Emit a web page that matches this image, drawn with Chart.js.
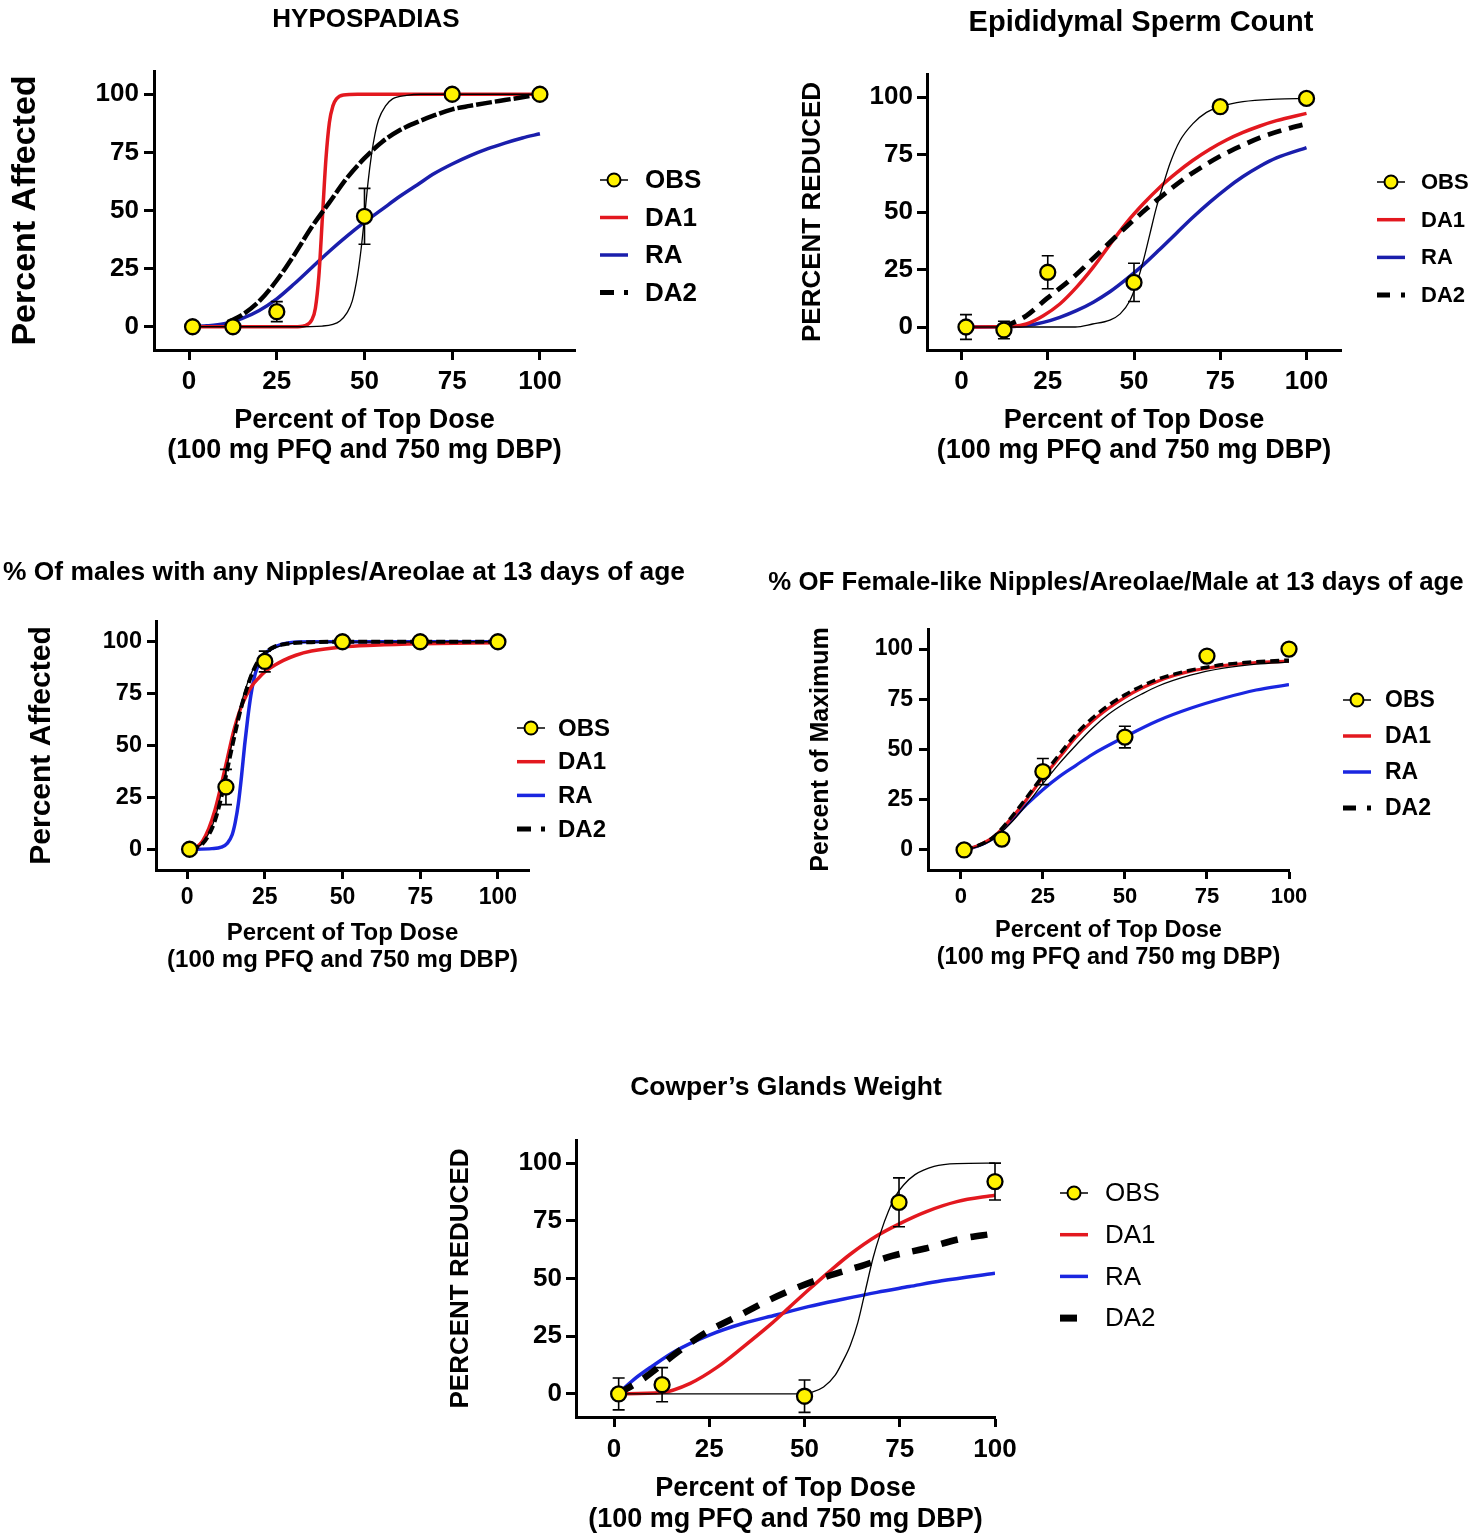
<!DOCTYPE html>
<html>
<head>
<meta charset="utf-8">
<script src="https://cdn.jsdelivr.net/npm/chart.js@4.4.1/dist/chart.umd.min.js"></script>
<style>
  html, body { margin: 0; padding: 0; background: #fff; }
  body { width: 1474px; height: 1539px; overflow: hidden; position: relative; }
  canvas { position: absolute; }
</style>
</head>
<body>
<canvas id="hypo"></canvas>
<canvas id="sperm"></canvas>
<canvas id="nipAny"></canvas>
<canvas id="nipFem"></canvas>
<canvas id="cowper"></canvas>
<script>
// ---- data ----
const doseTicks = [0, 25, 50, 75, 100];
const legendOrder = ['OBS', 'DA1', 'RA', 'DA2'];

// HYPOSPADIAS
const hypoObsX = [1, 12.5, 25, 50, 75, 100];
const hypoObsY = [0, 0, 6.5, 47.5, 100, 100];
const hypoObsErr = [0, 0, 4.3, 12, 0, 0];
const hypoFitX = [0, 30, 38, 41, 43, 45, 46.5, 48, 49, 50, 51, 52, 53, 54, 56, 58, 62, 66, 100];
const hypoFitY = [0, 0, 0.3, 1, 2.5, 6, 11, 22, 33, 47, 62, 74, 83, 89, 95, 98, 99.5, 100, 100];
const hypoDa1X = [0, 30, 33, 35, 36, 37, 38, 39, 40, 41, 42, 44, 48, 100];
const hypoDa1Y = [0, 0, 0.5, 3, 8, 22, 47, 72, 88, 95, 98, 99.7, 100, 100];
const hypoRaX = [0, 5, 10, 15, 20, 25, 30, 35, 40, 45, 50, 55, 60, 65, 70, 75, 80, 85, 90, 95, 100];
const hypoRaY = [0, 0.4, 1.3, 3.5, 7, 12, 18.5, 25.5, 32.5, 39, 45, 50.5, 56, 61, 66, 70, 73.5, 76.5, 79, 81.2, 83];
const hypoDa2X = [11, 15, 20, 25, 30, 35, 40, 45, 50, 55, 60, 65, 70, 75, 80, 85, 90, 95, 100];
const hypoDa2Y = [2, 5, 11, 20, 31, 43, 53.5, 64, 72.5, 79.5, 84.5, 88, 91, 93.5, 95, 96.3, 97.5, 98.7, 100];

// Epididymal Sperm Count
const spermObsX = [1.3, 12.3, 25, 50, 75, 100];
const spermObsY = [0, -1.3, 23.8, 19.4, 95.8, 99.4];
const spermObsErr = [5.4, 3.8, 7.2, 8.3, 0, 0];
const spermFitX = [1, 33, 38, 43, 46, 48.8, 50.7, 52.7, 54.6, 56.5, 58.5, 60.4, 63.3, 67, 71, 75, 81.6, 91.3, 100];
const spermFitY = [0, 0, 1.3, 3, 5.7, 11.4, 18.7, 28.8, 40.4, 52, 62, 71, 81, 88.3, 93.3, 95.8, 98, 99.1, 99.4];
const spermDa1X = [1, 15, 18.8, 23.7, 28.5, 33.3, 38.2, 43, 47.8, 52.7, 57.5, 62.3, 67, 72, 76.8, 81.6, 86.5, 91.3, 100];
const spermDa1Y = [0, 0.3, 1.3, 4.9, 10, 17.2, 26, 35.8, 45.3, 53.6, 60.8, 67, 72.4, 77.3, 81.3, 84.6, 87.4, 89.7, 92.9];
const spermRaX = [1, 15, 18.8, 23.7, 28.5, 33.3, 38.2, 43, 47.8, 52.7, 57.5, 62.3, 67, 72, 76.8, 81.6, 86.5, 91.3, 100];
const spermRaY = [0, 0.2, 0.6, 2, 4.2, 7.1, 10.8, 15.3, 20.8, 27, 33.8, 40.8, 47.6, 54.3, 60.2, 65.4, 69.9, 73.5, 78];
const spermDa2X = [12, 14, 18.8, 24.7, 32.3, 39, 47, 53.7, 61.3, 66, 74.4, 80.6, 87, 94, 100];
const spermDa2Y = [0, 1.2, 4.9, 12.3, 21.5, 31, 42.5, 51.5, 60.8, 66, 73.8, 78.4, 82.6, 86, 88.3];

// % of males with any nipples/areolae
const nipAnyObsX = [0.8, 12.5, 25, 50, 75, 100];
const nipAnyObsY = [0, 30, 90.5, 100, 100, 100];
const nipAnyObsErr = [0, 8.5, 5, 0, 0, 0];
const nipAnyFitX = [1, 5, 9, 13, 17, 21, 25, 30, 40, 100];
const nipAnyFitY = [0, 3, 15, 41, 68, 86, 94, 98, 99.8, 100];
const nipAnyDa1X = [1, 3, 5, 7, 9, 11, 13, 15, 17, 19, 21, 23, 25, 28, 31, 35, 40, 50, 60, 75, 100];
const nipAnyDa1Y = [0, 1, 4, 10, 19, 31, 44, 57, 67, 74, 79, 82.5, 85.5, 88.5, 91, 93.5, 95.5, 97.5, 98.3, 99, 99.5];
const nipAnyRaX = [1, 8, 11, 13, 14.5, 15.5, 16.5, 17.5, 18.5, 19.5, 20.5, 22, 24, 26, 29, 33, 40, 100];
const nipAnyRaY = [0, 0.3, 1, 3, 7, 13, 22, 35, 50, 63, 74, 85, 92, 95.5, 98, 99.5, 100, 100];
const nipAnyDa2X = [1, 3, 5, 7, 9, 11, 13, 15, 17, 19, 21, 23, 25, 28, 32, 40, 50, 100];
const nipAnyDa2Y = [0, 0.8, 2.7, 7, 14, 25, 39, 53, 66, 76.5, 85, 91, 94.5, 97.5, 99, 99.8, 100, 100];

// % of female-like nipples/areolae per male
const nipFemObsX = [1, 12.5, 25, 50, 75, 100];
const nipFemObsY = [0, 5.4, 39, 56.2, 96.5, 100];
const nipFemObsErr = [0, 0, 6.5, 5.4, 0, 0];
const nipFemFitX = [1, 5, 10, 15, 20, 25, 30, 35, 40, 45, 50, 55, 60, 70, 80, 90, 100];
const nipFemFitY = [0, 1.5, 5.5, 13, 22.5, 33, 43, 52, 60.5, 67.5, 73, 77.5, 81.5, 87, 90.5, 92.5, 93.5];
const nipFemDa1X = [1, 5, 10, 15, 20, 25, 30, 35, 40, 45, 50, 55, 60, 65, 70, 75, 80, 90, 100];
const nipFemDa1Y = [0, 2, 6.5, 15, 25, 36, 46, 56, 64, 70.5, 76, 80.5, 84, 86.8, 89, 90.5, 91.8, 93.3, 94];
const nipFemRaX = [1, 5, 10, 15, 20, 25, 30, 35, 40, 50, 60, 70, 80, 90, 100];
const nipFemRaY = [0, 1.8, 6, 14, 22.5, 30, 36.5, 42, 47.5, 56.3, 64.3, 70.5, 75.5, 79.6, 82.3];
const nipFemDa2X = [1, 5, 10, 15, 20, 25, 30, 35, 40, 45, 50, 55, 60, 65, 70, 75, 80, 90, 100];
const nipFemDa2Y = [0, 2, 6.5, 15.5, 26, 37, 47.5, 57.5, 65.5, 72, 77.2, 81.5, 85, 87.5, 89.5, 91, 92.3, 93.7, 94.5];

// Cowper's glands weight
const cowperObsX = [1.2, 12.6, 50, 74.8, 100];
const cowperObsY = [0, 4, -1, 83, 92];
const cowperObsErr = [6.9, 7.4, 7, 10.6, 8];
const cowperFitX = [1, 48, 52, 55, 58, 60, 62, 64, 66, 68, 70, 72, 74, 76, 79, 84, 90, 100];
const cowperFitY = [0, 0, 0.8, 3, 8, 14, 21, 31, 45, 59, 70, 79, 86, 90.5, 95, 98.6, 99.8, 100];
const cowperDa1X = [1, 12.5, 20, 27, 34, 41, 46, 51, 56.5, 62, 69, 75, 82, 90, 100];
const cowperDa1Y = [0, 0.6, 4.6, 11.5, 20.5, 30, 37.5, 45, 53, 60.5, 68.5, 73.8, 79, 83.3, 86.1];
const cowperRaX = [1, 5, 10, 16, 25, 34, 42.5, 51, 60, 69, 77.5, 86, 100];
const cowperRaY = [0, 6, 12, 18.5, 25.5, 30.6, 34.2, 37.8, 41, 44, 46.5, 49, 52.3];
const cowperDa2X = [1, 8, 17, 24, 32, 40.5, 48, 56.8, 65, 73, 81.7, 90.5, 100];
const cowperDa2Y = [0, 7, 18.5, 26.5, 33.3, 40.5, 46, 51.4, 55.5, 59.8, 63, 67, 69.5];

// ---- look ----
const FONT = "'Liberation Sans', Arial, Helvetica, sans-serif";
const RED = '#e3181f';
const YELLOW = '#fff200';
Chart.defaults.font.family = FONT;
Chart.defaults.color = '#000';

const pts = (xs, ys) => xs.map((x, i) => ({ x: x, y: ys[i] }));

// error bars drawn right before the OBS markers
const errorBars = {
  id: 'errorBars',
  beforeDatasetDraw(chart, args) {
    const ds = chart.data.datasets[args.index];
    if (!ds.errors) return;
    const { ctx } = chart;
    const sx = chart.scales.x, sy = chart.scales.y;
    ctx.save();
    ctx.strokeStyle = '#000';
    ctx.lineWidth = 1.6;
    ds.data.forEach((p, i) => {
      const e = ds.errors[i];
      if (!e) return;
      const px = sx.getPixelForValue(p.x);
      const top = sy.getPixelForValue(p.y + e);
      const bot = sy.getPixelForValue(p.y - e);
      ctx.beginPath();
      ctx.moveTo(px, top); ctx.lineTo(px, bot);
      ctx.moveTo(px - 6, top); ctx.lineTo(px + 6, top);
      ctx.moveTo(px - 6, bot); ctx.lineTo(px + 6, bot);
      ctx.stroke();
    });
    ctx.restore();
  }
};

// legend to the right of the plot, GraphPad style
const sideLegend = {
  id: 'sideLegend',
  afterDraw(chart, args, opts) {
    const { ctx, chartArea } = chart;
    const x0 = chartArea.right + opts.dx;
    opts.items.forEach((label, i) => {
      const ds = chart.data.datasets.find(d => d.label === label);
      if (!ds) return;
      const y = chartArea.top + opts.dy + i * opts.step;
      ctx.save();
      ctx.beginPath();
      if (label === 'OBS') {
        ctx.strokeStyle = '#000';
        ctx.lineWidth = 1.5;
        ctx.moveTo(x0, y); ctx.lineTo(x0 + opts.len, y);
        ctx.stroke();
        ctx.beginPath();
        ctx.arc(x0 + opts.len / 2, y, 6.5, 0, Math.PI * 2);
        ctx.fillStyle = YELLOW;
        ctx.fill();
        ctx.lineWidth = 2;
        ctx.stroke();
      } else {
        ctx.strokeStyle = ds.borderColor;
        ctx.lineWidth = label === 'DA2' ? opts.da2Width : 3.5;
        if (label === 'DA2') ctx.setLineDash(opts.da2Dash);
        ctx.moveTo(x0, y); ctx.lineTo(x0 + opts.len, y);
        ctx.stroke();
      }
      ctx.setLineDash([]);
      ctx.fillStyle = '#000';
      ctx.font = opts.weight + ' ' + opts.size + 'px ' + FONT;
      ctx.textBaseline = 'middle';
      ctx.textAlign = 'left';
      ctx.fillText(label, chartArea.right + opts.textDx, y + 1);
      ctx.restore();
    });
  }
};

// ---- panels: placement and styling ----
const panels = [
  {
    id: 'hypo', box: [0, 0, 732, 475], area: [154, 71, 575, 350], xMax: 110, tick: 10,
    title: ['HYPOSPADIAS', 26, 20], yTitle: ['Percent Affected', 34, 26],
    yTicks: [26, 139], xTicks: [26, 382], xTitle: [27, 30, 421],
    legend: { dx: 25, dy: 109, step: 37.5, len: 28, textDx: 70, size: 26, weight: 'bold', da2Dash: [14, 10], da2Width: 5 },
    blue: '#1a1eac', lineW: 3.5, da2W: 4.5, da2Dash: [16, 3],
    obs: [hypoObsX, hypoObsY, hypoObsErr], fit: [hypoFitX, hypoFitY],
    da1: [hypoDa1X, hypoDa1Y], ra: [hypoRaX, hypoRaY], da2: [hypoDa2X, hypoDa2Y]
  },
  {
    id: 'sperm', box: [741, 0, 800, 475], area: [927, 74, 1341, 350], xMax: 110, tick: 10,
    title: ['Epididymal Sperm Count', 29, 23], yTitle: ['PERCENT REDUCED', 26, 813],
    yTicks: [26, 913], xTicks: [26, 382], xTitle: [27, 30, 421],
    legend: { dx: 36, dy: 108, step: 37.7, len: 28, textDx: 80, size: 22, weight: 'bold', da2Dash: [13, 11], da2Width: 5 },
    blue: '#1a1eac', lineW: 3.5, da2W: 4.8, da2Dash: [14, 8],
    obs: [spermObsX, spermObsY, spermObsErr], fit: [spermFitX, spermFitY],
    da1: [spermDa1X, spermDa1Y], ra: [spermRaX, spermRaY], da2: [spermDa2X, spermDa2Y]
  },
  {
    id: 'nipAny', box: [0, 545, 688, 440], area: [156, 621, 529, 870], xMax: 110, tick: 9,
    title: ['% Of males with any Nipples/Areolae at 13 days of age', 26.4, 573], yTitle: ['Percent Affected', 30, 42],
    yTicks: [23.5, 142], xTicks: [23, 898], xTitle: [24, 27, 933],
    legend: { dx: -12, dy: 107, step: 33.7, len: 28, textDx: 29, size: 24, weight: 'bold', da2Dash: [14, 10], da2Width: 5 },
    blue: '#1a26e0', lineW: 3.5, da2W: 4, da2Dash: [9, 4],
    obs: [nipAnyObsX, nipAnyObsY, nipAnyObsErr], fit: [nipAnyFitX, nipAnyFitY],
    da1: [nipAnyDa1X, nipAnyDa1Y], ra: [nipAnyRaX, nipAnyRaY], da2: [nipAnyDa2X, nipAnyDa2Y]
  },
  {
    id: 'nipFem', box: [740, 545, 752, 440], area: [928, 629, 1289, 870], xMax: 100, tick: 9,
    title: ['% OF Female-like Nipples/Areolae/Male at 13 days of age', 25.8, 583], yTitle: ['Percent of Maximum', 25, 821],
    yTicks: [23, 913], xTicks: [22, 897], xTitle: [23.5, 26.5, 931],
    legend: { dx: 54, dy: 71, step: 36, len: 28, textDx: 96, size: 23, weight: 'bold', da2Dash: [13, 11], da2Width: 5 },
    blue: '#1a26e0', lineW: 3.2, da2W: 3.5, da2Dash: [9, 5],
    obs: [nipFemObsX, nipFemObsY, nipFemObsErr], fit: [nipFemFitX, nipFemFitY],
    da1: [nipFemDa1X, nipFemDa1Y], ra: [nipFemRaX, nipFemRaY], da2: [nipFemDa2X, nipFemDa2Y]
  },
  {
    id: 'cowper', box: [300, 1060, 972, 479], area: [576, 1140, 995, 1417], xMax: 100, tick: 10,
    title: ['Cowper\u2019s Glands Weight', 26.5, 1088], yTitle: ['PERCENT REDUCED', 26, 461],
    yTicks: [26, 562], xTicks: [26, 1450], xTitle: [27, 31, 1489],
    legend: { dx: 65, dy: 53, step: 41.7, len: 28, textDx: 110, size: 26, weight: 'normal', da2Dash: [17, 14], da2Width: 7 },
    blue: '#1a26e0', lineW: 3.5, da2W: 6.5, da2Dash: [17, 13],
    obs: [cowperObsX, cowperObsY, cowperObsErr], fit: [cowperFitX, cowperFitY],
    da1: [cowperDa1X, cowperDa1Y], ra: [cowperRaX, cowperRaY], da2: [cowperDa2X, cowperDa2Y]
  }
];

function buildChart(p) {
  const [L, T, W, H] = p.box;
  const [al, at, ar, ab] = p.area;
  const canvas = document.getElementById(p.id);
  canvas.width = W; canvas.height = H;
  canvas.style.left = L + 'px'; canvas.style.top = T + 'px';
  canvas.style.width = W + 'px'; canvas.style.height = H + 'px';

  const [tText, tSize, tCy] = p.title;
  const tLh = tSize * 1.2;
  const tPadTop = tCy - T - tLh / 2;
  const tPadBottom = (at - T) - tLh - tPadTop;

  const [yText, ySize, yCx] = p.yTitle;
  const yLh = ySize * 1.2;

  const [xtSize, xtLh, xtCy] = p.xTitle;
  const xtPadBottom = (T + H) - xtCy - xtLh / 2 - xtLh;

  const [ytSize, ytRight] = p.yTicks;
  const [xkSize, xkCy] = p.xTicks;

  const curve = (label, xy, color, width, dash) => ({
    label: label, data: pts(xy[0], xy[1]), borderColor: color, borderWidth: width,
    borderDash: dash || [], pointRadius: 0, cubicInterpolationMode: 'monotone', fill: false
  });

  return new Chart(canvas.getContext('2d'), {
    type: 'line',
    data: {
      datasets: [
        {
          label: 'OBS', data: pts(p.obs[0], p.obs[1]), errors: p.obs[2], showLine: false,
          pointRadius: 7.5, pointBackgroundColor: YELLOW, pointBorderColor: '#000', pointBorderWidth: 2.3, clip: false
        },
        curve('OBS fit', p.fit, '#000', 1.3),
        curve('DA2', p.da2, '#000', p.da2W, p.da2Dash),
        curve('DA1', p.da1, RED, p.lineW),
        curve('RA', p.ra, p.blue, p.lineW)
      ]
    },
    options: {
      responsive: false,
      animation: false,
      events: [],
      layout: { padding: 0 },
      plugins: {
        legend: { display: false },
        tooltip: { enabled: false },
        title: {
          display: true, text: tText, fullSize: true, color: '#000',
          font: { size: tSize, weight: 'bold', lineHeight: 1.2 },
          padding: { top: tPadTop, bottom: tPadBottom }
        },
        sideLegend: Object.assign({ items: legendOrder }, p.legend)
      },
      scales: {
        x: {
          type: 'linear', min: -10, max: p.xMax,
          afterBuildTicks: s => { s.ticks = doseTicks.map(v => ({ value: v })); },
          afterFit: s => { s.height = (T + H) - ab; s.paddingLeft = 0; s.paddingRight = 0; },
          grid: { display: true, drawOnChartArea: false, drawTicks: true, tickLength: p.tick, tickWidth: 3, tickColor: '#000' },
          border: { display: true, color: '#000', width: 3 },
          ticks: {
            color: '#000', maxRotation: 0, autoSkip: false,
            font: { size: xkSize, weight: 'bold', lineHeight: 1.2 },
            padding: xkCy - ab - p.tick - xkSize * 0.6
          },
          title: {
            display: true, text: ['Percent of Top Dose', '(100 mg PFQ and 750 mg DBP)'], color: '#000',
            font: { size: xtSize, weight: 'bold', lineHeight: xtLh + 'px' },
            padding: { top: 0, bottom: xtPadBottom }
          }
        },
        y: {
          type: 'linear', min: -10, max: 110,
          afterBuildTicks: s => { s.ticks = doseTicks.map(v => ({ value: v })); },
          afterFit: s => { s.width = al - L; s.paddingTop = 0; s.paddingBottom = 0; },
          grid: { display: true, drawOnChartArea: false, drawTicks: true, tickLength: p.tick, tickWidth: 3, tickColor: '#000' },
          border: { display: true, color: '#000', width: 3 },
          ticks: {
            color: '#000',
            font: { size: ytSize, weight: 'bold', lineHeight: 1.2 },
            padding: al - p.tick - ytRight
          },
          title: {
            display: true, text: yText, color: '#000',
            font: { size: ySize, weight: 'bold', lineHeight: 1.2 },
            padding: { top: yCx - L - yLh / 2, bottom: 0 }
          }
        },
        // empty right-hand box that keeps room for the legend
        room: {
          type: 'linear', position: 'right', display: true,
          grid: { display: false }, border: { display: false },
          ticks: { display: false }, title: { display: false },
          afterFit: s => { s.width = (L + W) - ar; s.paddingTop = 0; s.paddingBottom = 0; }
        }
      }
    },
    plugins: [errorBars, sideLegend]
  });
}

panels.forEach(buildChart);
</script>
</body>
</html>
